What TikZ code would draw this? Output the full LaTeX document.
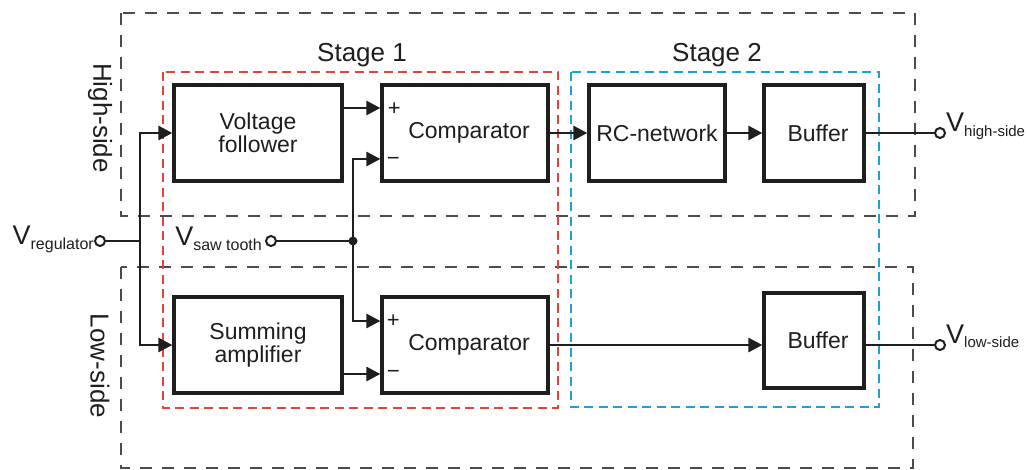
\documentclass[tikz,border=0pt]{standalone}
\usepackage{fontspec}
\setmainfont{Liberation Sans}
\usetikzlibrary{arrows.meta,calc}
\definecolor{stred}{RGB}{226,68,56}
\definecolor{stblue}{RGB}{30,160,212}
\definecolor{ink}{RGB}{30,30,30}
\newcommand{\sig}[2][16]{{\fontsize{27}{27}\selectfont V}\raisebox{-5pt}{\fontsize{#1}{#1}\selectfont #2}}
\begin{document}
\begin{tikzpicture}[x=1pt,y=-1pt,
  blk/.style={draw=ink, line width=3.3pt, align=center, inner sep=2pt,
    font=\fontsize{23}{23}\selectfont, text=ink},
  wire/.style={draw=ink, line width=2.8pt},
  arr/.style={wire, -{Triangle[length=14pt,width=14pt]}},
  bdash/.style={draw=ink!80, line width=1.1pt, dash pattern=on 12pt off 10pt},
  rdash/.style={draw=stred, line width=2.2pt, dash pattern=on 9pt off 5.5pt},
  udash/.style={draw=stblue, line width=2.2pt, dash pattern=on 9pt off 5.5pt},
  term/.style={circle, draw=ink, fill=white, line width=2pt, minimum size=10pt, inner sep=0pt},
  dot/.style={circle, fill=ink, minimum size=9pt, inner sep=0pt},
  pm/.style={font=\fontsize{22}{22}\selectfont, text=ink, inner sep=0pt},
  stagelbl/.style={font=\fontsize{26}{26}\selectfont, text=ink, inner sep=0pt},
  sidelbl/.style={font=\fontsize{26}{26}\selectfont, text=ink, inner sep=0pt, rotate=-90},
  siglbl/.style={text=ink, inner sep=0pt}
]
\useasboundingbox (0,0) rectangle (1028,470);

% region boxes
\draw[bdash] (121,13) rectangle (915,216);
\draw[bdash] (121,267) rectangle (913,468);
\draw[rdash] (163,72) rectangle (558,408);
\draw[udash] (571,72) rectangle (879,407);

% labels
\node[stagelbl, anchor=base] (st1) at (362,62) {Stage 1};
\node[stagelbl, anchor=base] (st2) at (717,62) {Stage 2};
\node[sidelbl] (hs) at (100,118) {High-side};
\node[sidelbl] (ls) at (100,366) {Low-side};

% blocks
\node[blk, minimum width=168pt, minimum height=96pt] (vf) at (258,133) {Voltage\\follower};
\node[blk, minimum width=166pt, minimum height=96pt] (c1) at (465,133) {\hspace*{8pt}Comparator};
\node[blk, minimum width=136pt, minimum height=96pt] (rc) at (657,133) {RC-network};
\node[blk, minimum width=100pt, minimum height=96pt] (b1) at (814,133) {\hspace*{8pt}Buffer};
\node[blk, minimum width=168pt, minimum height=96pt] (sa) at (258,345) {Summing\\amplifier};
\node[blk, minimum width=166pt, minimum height=96pt] (c2) at (465,345) {\hspace*{8pt}Comparator};
\node[blk, minimum width=100pt, minimum height=95pt] (b2) at (814,340.5) {\hspace*{8pt}Buffer};

% comparator inputs
\coordinate (c1p) at ($(c1.west)+(0,-25)$);
\coordinate (c1m) at ($(c1.west)+(0,26)$);
\coordinate (c2p) at ($(c2.west)+(0,-24)$);
\coordinate (c2m) at ($(c2.west)+(0,29)$);
\node[pm] (c1plus) at ($(c1p)+(14,1)$) {+};
\node[pm] (c1minus) at ($(c1m)+(13,2)$) {−};
\node[pm] (c2plus) at ($(c2p)+(13,0)$) {+};
\node[pm] (c2minus) at ($(c2m)+(13,0)$) {−};

% terminals
\node[term] (vreg) at (100,241) {};
\node[term] (vsaw) at (271,241) {};
\node[term] (vhigh) at (940,133) {};
\node[term] (vlow) at (940,345) {};
\node[dot] (j) at (353,241) {};
\coordinate (bus) at (140,241);

\node[siglbl, anchor=base east] (lreg) at (94,245) {\sig{regulator}};
\node[siglbl, anchor=base east] (lsaw) at (262,246) {\sig{saw tooth}};
\node[siglbl, anchor=base west] (lhigh) at (946,132) {\sig[15]{high-side}};
\node[siglbl, anchor=base west] (llow) at (946,343) {\sig[15]{low-side}};

% wiring
\draw[wire] (vreg.east) -- (bus);
\draw[arr] (bus) |- (vf.west);
\draw[arr] (bus) |- (sa.west);
\draw[arr] (vf.east |- c1p) -- (c1p);
\draw[wire] (vsaw.east) -- (j.center);
\draw[arr] (j.center) |- (c1m);
\draw[arr] (j.center) |- (c2p);
\draw[arr] (sa.east |- c2m) -- (c2m);
\draw[arr] (c1.east) -- (rc.west);
\draw[arr] (rc.east) -- (b1.west);
\draw[wire] (b1.east) -- (vhigh.west);
\draw[arr] (c2.east) -- (c2.east -| b2.west);
\draw[wire] (b2.east |- vlow) -- (vlow.west);
\end{tikzpicture}
\end{document}
